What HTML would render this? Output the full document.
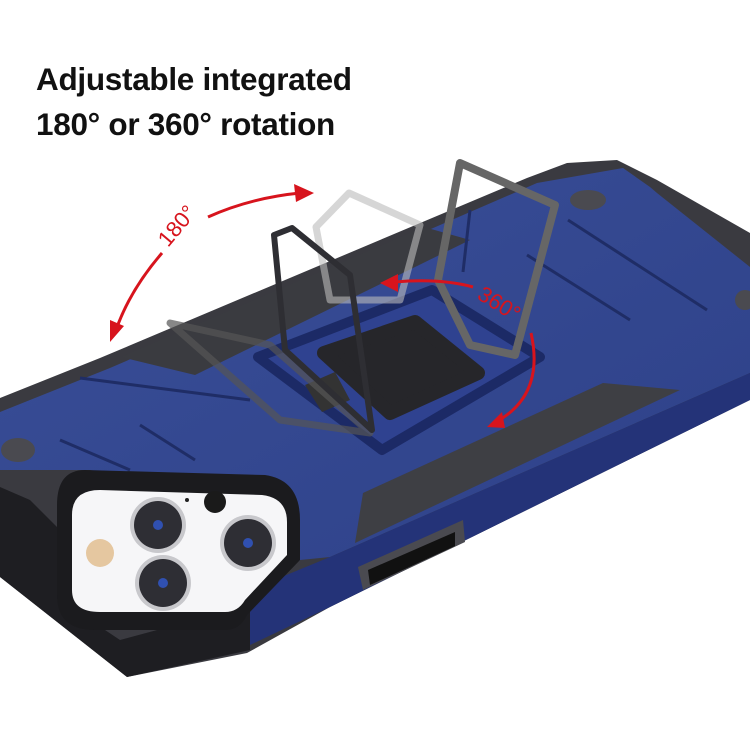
<!DOCTYPE html>
<html><head><meta charset="utf-8"><style>
html,body{margin:0;padding:0;background:#fff;width:750px;height:750px;overflow:hidden}
.t{position:absolute;left:36px;font-family:"Liberation Sans",sans-serif;font-weight:bold;font-size:31.5px;color:#111;letter-spacing:-0.3px}
</style></head><body>
<svg width="750" height="750" style="position:absolute;left:0;top:0">
<defs>
<linearGradient id="b" x1="0" y1="0" x2="1" y2="1"><stop offset="0" stop-color="#3a4f98"/><stop offset="1" stop-color="#2d4088"/></linearGradient>
</defs>
<polygon points="0,398 100,358 527,178 567,163 617,160 657,180 750,233 750,400 330,607 247,653 127,677 0,577" fill="#3a3a40"/>
<polygon points="0,412 110,368 537,183 623,168 650,187 657,193 750,267 750,373 330,557 300,560 250,600 250,500 90,470 0,470" fill="url(#b)"/>
<polygon points="250,590 330,557 750,373 750,400 330,607 250,645" fill="#243378"/>
<polygon points="358,567 463,520 465,542 363,590" fill="#4a4a50"/>
<polygon points="368,570 455,532 455,546 370,585" fill="#111"/>
<polygon points="121,357 424,227 470,240 195,375" fill="#3a3b40"/>
<polygon points="363,493 603,383 680,390 355,543" fill="#3e3f44"/>
<g stroke="#1f2d66" stroke-width="3" fill="none">
<line x1="60" y1="440" x2="130" y2="470"/><line x1="140" y1="425" x2="195" y2="460"/>
<line x1="80" y1="378" x2="250" y2="400"/>
<line x1="527" y1="255" x2="630" y2="320"/><line x1="568" y1="220" x2="707" y2="310"/>
<line x1="470" y1="210" x2="463" y2="272"/>
</g>
<polygon points="0,487 30,500 60,530 60,600 120,640 250,605 250,650 127,677 0,577" fill="#1e1e22"/>
<path d="M85,470 L265,475 Q300,480 300,520 L300,560 L247,615 Q240,630 225,630 L95,630 Q57,630 57,595 L57,505 Q57,470 85,470 Z" fill="#1b1b1e"/>
<path d="M100,490 L262,495 Q287,498 287,522 L287,555 L245,600 Q238,612 225,612 L100,612 Q72,612 72,590 L72,515 Q72,490 100,490 Z" fill="#f6f6f8"/>
<g>
<circle cx="158" cy="525" r="28" fill="#c8c8cc"/><circle cx="158" cy="525" r="24" fill="#2e2e34"/><circle cx="158" cy="525" r="5" fill="#3050b0"/>
<circle cx="248" cy="543" r="28" fill="#c8c8cc"/><circle cx="248" cy="543" r="24" fill="#2e2e34"/><circle cx="248" cy="543" r="5" fill="#3050b0"/>
<circle cx="163" cy="583" r="28" fill="#c8c8cc"/><circle cx="163" cy="583" r="24" fill="#2e2e34"/><circle cx="163" cy="583" r="5" fill="#3050b0"/>
</g>
<circle cx="215" cy="502" r="11" fill="#1a1a1a"/><circle cx="187" cy="500" r="2" fill="#222"/>
<circle cx="100" cy="553" r="14" fill="#e5c7a0"/>
<ellipse cx="18" cy="450" rx="17" ry="12" fill="#4a4a50"/><ellipse cx="588" cy="200" rx="18" ry="10" fill="#4a4a50"/><ellipse cx="745" cy="300" rx="10" ry="10" fill="#4a4a50"/>
<polygon points="258,357 432,290 540,357 382,450" fill="#2f4290" stroke="#1c2a66" stroke-width="10" stroke-linejoin="round"/>
<polygon points="324,353 415,322 478,373 390,413" fill="#26262a" stroke="#26262a" stroke-width="14" stroke-linejoin="round"/>
<polygon points="305,385 335,372 350,400 322,412" fill="#333"/>
<g fill="none" stroke-linejoin="round">
<polygon points="316,227 349,193 420,225 400,300 330,300" stroke="#bbb" stroke-width="7" opacity="0.6"/>
<polygon points="170,323 270,345 370,433 280,420" stroke="#555" stroke-width="7" opacity="0.7"/>
<polygon points="274,235 292,228 350,275 372,430 285,350" stroke="#2e2e33" stroke-width="6"/>
<polygon points="460,163 555,205 515,355 470,345 438,280" stroke="#666" stroke-width="8"/>
</g>
<g fill="none" stroke="#d7141d" stroke-width="3">
<path d="M300,193 Q250,198 208,217"/>
<path d="M162,253 Q130,290 116,330"/>
<path d="M395,282 Q440,278 473,287"/>
<path d="M531,333 Q545,395 496,422"/>
</g>
<polygon points="314,193 294,184 296,202" fill="#d7141d"/>
<polygon points="110,342 110,320 124,326" fill="#d7141d"/>
<polygon points="380,283 398,274 398,292" fill="#d7141d"/>
<polygon points="487,427 502,412 505,428" fill="#d7141d"/>
<text x="0" y="0" transform="translate(168,248) rotate(-50)" font-family="Liberation Sans,sans-serif" font-size="22" fill="#d7141d">180°</text>
<text x="0" y="0" transform="translate(476,298) rotate(32)" font-family="Liberation Sans,sans-serif" font-size="22" fill="#d7141d">360°</text>
</svg>
<div class="t" style="top:61px">Adjustable integrated</div>
<div class="t" style="top:106px">180° or 360° rotation</div>
</body></html>
